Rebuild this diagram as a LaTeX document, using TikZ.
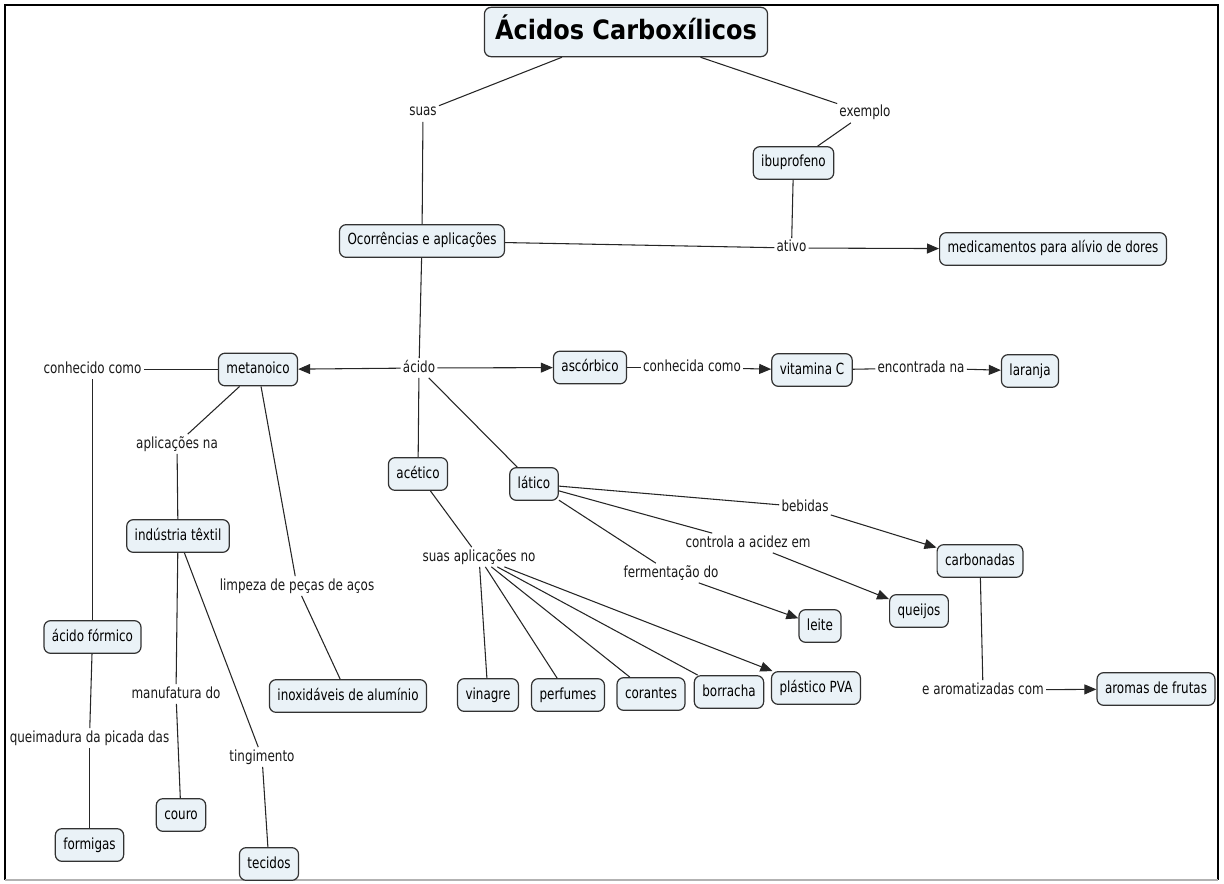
\documentclass[tikz,border=0pt]{standalone}
\usepackage{fontspec}
\setmainfont{DejaVu Sans}[FakeStretch=0.78]
\newfontfamily\titlefont{DejaVu Sans}[FakeStretch=0.9]
\usepackage{xcolor}
\usetikzlibrary{arrows.meta}
\definecolor{conceptfill}{RGB}{234,242,247}
\definecolor{edgegray}{RGB}{50,50,50}

\begin{document}
\begin{tikzpicture}[x=0.75pt,y=-0.75pt,
  concept/.style={draw=edgegray,line width=0.9pt,fill=conceptfill,rounded corners=5pt,
    inner xsep=6pt,minimum height=24.5pt,font=\fontsize{11.5}{13}\selectfont,
    text height=8.7pt,text depth=2.7pt},
  phrase/.style={inner sep=1.5pt,font=\fontsize{11.5}{13}\selectfont,text=black!90,
    text height=8.7pt,text depth=2.7pt},
  link/.style={draw=black!85,line width=0.8pt},
  tolink/.style={link,-{Triangle[length=9pt,width=7.5pt]}}]
  \useasboundingbox (0,0) rectangle (1224,884);

  % frame round the map
  \draw[line width=1.5pt] (5,880) -- (5,5) -- (1218,5) -- (1218,880);
  \draw[gray!60,line width=1.2pt] (5,880) -- (1218,880);

  % concepts
  \node[concept,font=\fontsize{20}{24}\titlefont\bfseries,inner xsep=8pt,
        minimum height=37pt,text height=15pt,text depth=4pt] (titulo) at (626,32) {Ácidos Carboxílicos};
  \node[concept] (ibu)      at (793.5,163) {ibuprofeno};
  \node[concept] (ocorr)    at (422,241)  {Ocorrências e aplicações};
  \node[concept] (medic)    at (1053,249) {medicamentos para alívio de dores};
  \node[concept] (metan)    at (258,369.5) {metanoico};
  \node[concept] (ascorb)   at (590,367.5) {ascórbico};
  \node[concept] (vitc)     at (812,370)  {vitamina C};
  \node[concept] (laranja)  at (1030,371) {laranja};
  \node[concept] (acet)     at (418,474)  {acético};
  \node[concept] (latico)   at (534,484)  {lático};
  \node[concept] (textil)   at (178,536)  {indústria têxtil};
  \node[concept] (carbon)   at (980,561)  {carbonadas};
  \node[concept] (queijos)  at (919,611)  {queijos};
  \node[concept] (leite)    at (820,626)  {leite};
  \node[concept] (formico)  at (92.5,637) {ácido fórmico};
  \node[concept] (inox)     at (348,696)  {inoxidáveis de alumínio};
  \node[concept] (vinagre)  at (488,695)  {vinagre};
  \node[concept] (perfumes) at (568,695)  {perfumes};
  \node[concept] (corantes) at (651,694)  {corantes};
  \node[concept] (borracha) at (729,692)  {borracha};
  \node[concept] (pva)      at (816,688)  {plástico PVA};
  \node[concept] (aromas)   at (1156,689) {aromas de frutas};
  \node[concept] (couro)    at (181,815)  {couro};
  \node[concept] (formigas) at (89.5,845) {formigas};
  \node[concept] (tecidos)  at (269,864)  {tecidos};

  % linking phrases
  \node[phrase] (suas)     at (423,112) {suas};
  \node[phrase] (exemplo)  at (865,113) {exemplo};
  \node[phrase] (ativo)    at (791.5,248) {ativo};
  \node[phrase] (acido)    at (419,368) {ácido};
  \node[phrase] (conhec)   at (92.5,369.5) {conhecido como};
  \node[phrase] (aplicna)  at (177,444) {aplicações na};
  \node[phrase] (conhecda) at (692,367.5) {conhecida como};
  \node[phrase] (encontr)  at (921,368) {encontrada na};
  \node[phrase] (bebidas)  at (805,507) {bebidas};
  \node[phrase] (controla) at (748,543) {controla a acidez em};
  \node[phrase] (aplicno)  at (479,557) {suas aplicações no};
  \node[phrase] (ferment)  at (671,573) {fermentação do};
  \node[phrase] (limpeza)  at (297,586) {limpeza de peças de aços};
  \node[phrase] (manuf)    at (176,694) {manufatura do};
  \node[phrase] (aromat)   at (983,690) {e aromatizadas com};
  \node[phrase] (queimad)  at (89.5,738) {queimadura da picada das};
  \node[phrase] (tingim)   at (262,757) {tingimento};

  % links
  \draw[link] (titulo) -- (suas);
  \draw[link] (suas) -- (ocorr);
  \draw[link] (titulo) -- (exemplo);
  \draw[link] (exemplo) -- (ibu);
  \draw[link] (ibu) -- (ativo);
  \draw[link] (ocorr) -- (ativo);
  \draw[tolink] (ativo) -- (medic);
  \draw[link] (ocorr) -- (acido);
  \draw[tolink] (acido) -- (metan);
  \draw[tolink] (acido) -- (ascorb);
  \draw[link] (acido) -- (acet);
  \draw[link] (acido) -- (latico);
  \draw[link] (ascorb) -- (conhecda);
  \draw[tolink] (conhecda) -- (vitc);
  \draw[link] (vitc) -- (encontr);
  \draw[tolink] (encontr) -- (laranja);
  \draw[link] (metan) -- (conhec);
  \draw[link] (conhec) -- (formico);
  \draw[link] (formico) -- (queimad);
  \draw[link] (queimad) -- (formigas);
  \draw[link] (metan) -- (aplicna);
  \draw[link] (aplicna) -- (textil);
  \draw[link] (textil) -- (manuf);
  \draw[link] (manuf) -- (couro);
  \draw[link] (textil) -- (tingim);
  \draw[link] (tingim) -- (tecidos);
  \draw[link] (metan) -- (limpeza);
  \draw[link] (limpeza) -- (inox);
  \draw[link] (acet) -- (aplicno);
  \foreach \uso in {vinagre,perfumes,corantes,borracha}
    \draw[link] (aplicno) -- (\uso);
  \draw[tolink] (aplicno) -- (pva);
  \draw[link] (latico) -- (bebidas);
  \draw[tolink] (bebidas) -- (carbon);
  \draw[link] (latico) -- (controla);
  \draw[tolink] (controla) -- (queijos);
  \draw[link] (latico) -- (ferment);
  \draw[tolink] (ferment) -- (leite);
  \draw[link] (carbon) -- (aromat);
  \draw[tolink] (aromat) -- (aromas);
\end{tikzpicture}
\end{document}
